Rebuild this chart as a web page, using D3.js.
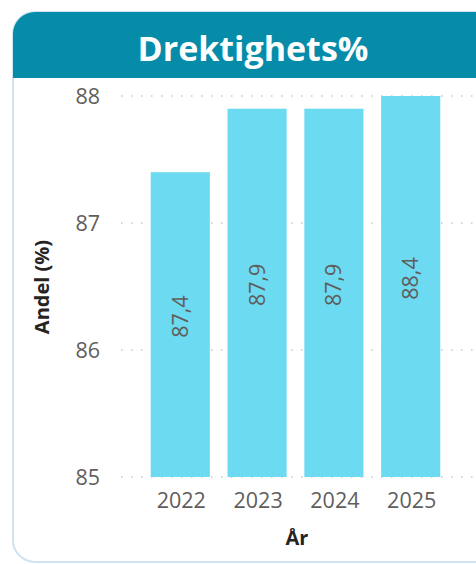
<!DOCTYPE html>
<html>
<head>
  <meta charset="utf-8">
  <title>Drektighets%</title>
  <style>
    body { margin: 0; background: #fff; }
    svg { display: block; font-family: "Segoe UI", "Open Sans", sans-serif; }
  </style>
</head>
<body>
  <svg width="476" height="564"></svg>
  <script src="https://d3js.org/d3.v7.min.js"></script>
  <script>
  // data
  var years = ["2022", "2023", "2024", "2025"];
  var values = [87.4, 87.9, 87.9, 88.4];
  var yTicks = [85, 86, 87, 88];

  var svg = d3.select("svg");
  var width = 476, height = 564;

  // card + header
  svg.append("rect")
    .attr("x", 13).attr("y", 12)
    .attr("width", 500).attr("height", 550)
    .attr("rx", 22)
    .attr("fill", "#fff")
    .attr("stroke", "#cfe4ef")
    .attr("stroke-width", 2);

  svg.append("clipPath").attr("id", "hdr")
    .append("rect")
    .attr("x", 13).attr("y", 12)
    .attr("width", 500).attr("height", 550)
    .attr("rx", 22);

  svg.append("rect")
    .attr("clip-path", "url(#hdr)")
    .attr("x", 12).attr("y", 11)
    .attr("width", 500).attr("height", 67)
    .attr("fill", "#068ca8");

  svg.append("text")
    .attr("x", 253).attr("y", 61)
    .attr("text-anchor", "middle")
    .attr("fill", "#fff")
    .attr("font-size", 34)
    .attr("font-weight", "bold")
    .text("Drektighets%");

  // scales
  var x = d3.scaleBand()
    .domain(years)
    .range([120, 471])
    .paddingInner(0.23)
    .paddingOuter(0.4);

  var y = d3.scaleLinear()
    .domain([85, 88])
    .range([477, 96]);

  // gridlines
  svg.append("g")
    .selectAll("line")
    .data(yTicks)
    .enter()
    .append("line")
    .attr("x1", 121).attr("x2", 476)
    .attr("y1", function(d) { return y(d); })
    .attr("y2", function(d) { return y(d); })
    .attr("stroke", "#c8c8c8")
    .attr("stroke-width", 1.5)
    .attr("stroke-dasharray", "1.5,8.5");

  // y tick labels
  svg.append("g")
    .selectAll("text")
    .data(yTicks)
    .enter()
    .append("text")
    .attr("x", 100)
    .attr("y", function(d) { return y(d); })
    .attr("dy", "0.35em")
    .attr("text-anchor", "end")
    .attr("fill", "#605e5c")
    .attr("font-size", 21.5)
    .text(function(d) { return d; });

  // bars
  svg.append("clipPath").attr("id", "plot")
    .append("rect")
    .attr("x", 0).attr("y", y(88))
    .attr("width", width).attr("height", y(85) - y(88));

  var bars = svg.append("g").attr("clip-path", "url(#plot)");

  bars.selectAll("rect")
    .data(values)
    .enter()
    .append("rect")
    .attr("x", function(d, i) { return x(years[i]); })
    .attr("width", x.bandwidth())
    .attr("y", function(d) { return y(d); })
    .attr("height", function(d) { return y(85) - y(d); })
    .attr("fill", "#6cdaf0");

  // bar labels
  svg.append("g")
    .selectAll("text")
    .data(values)
    .enter()
    .append("text")
    .attr("transform", function(d, i) {
      var top = Math.max(y(d), y(88));
      var cy = (top + y(85)) / 2 - 8;
      var cx = x(years[i]) + x.bandwidth() / 2;
      return "translate(" + cx + "," + cy + ") rotate(-90)";
    })
    .attr("text-anchor", "middle")
    .attr("dy", "0.35em")
    .attr("fill", "#605e5c")
    .attr("font-size", 21.5)
    .text(function(d) { return d.toFixed(1).replace(".", ","); });

  // x tick labels
  svg.append("g")
    .selectAll("text")
    .data(years)
    .enter()
    .append("text")
    .attr("x", function(d) { return x(d) + x.bandwidth() / 2 + 1; })
    .attr("y", 500)
    .attr("dy", "0.35em")
    .attr("text-anchor", "middle")
    .attr("fill", "#605e5c")
    .attr("font-size", 21.5)
    .text(function(d) { return d; });

  // axis titles
  svg.append("text")
    .attr("x", 297).attr("y", 538)
    .attr("dy", "0.35em")
    .attr("text-anchor", "middle")
    .attr("fill", "#252423")
    .attr("font-size", 20)
    .attr("font-weight", "bold")
    .text("År");

  svg.append("text")
    .attr("transform", "translate(42,287) rotate(-90)")
    .attr("dy", "0.35em")
    .attr("text-anchor", "middle")
    .attr("fill", "#252423")
    .attr("font-size", 20)
    .attr("font-weight", "bold")
    .text("Andel (%)");
  </script>
</body>
</html>
